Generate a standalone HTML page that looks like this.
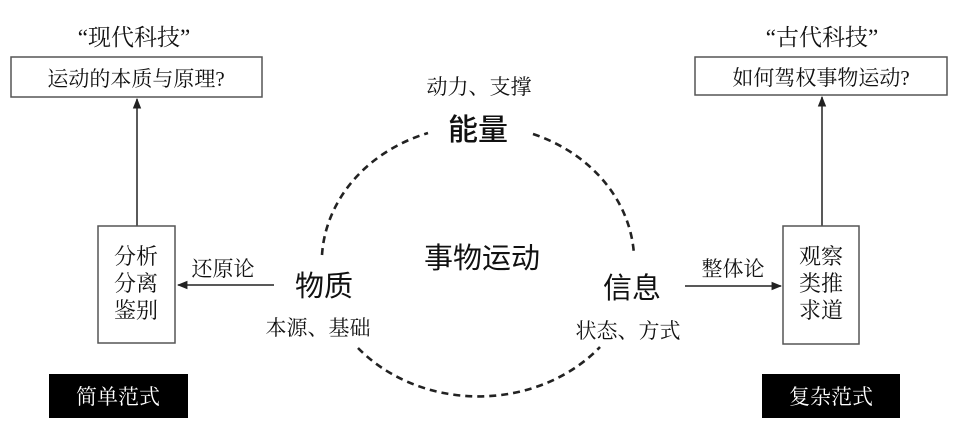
<!DOCTYPE html>
<html><head><meta charset="utf-8"><style>
body{margin:0;background:#fff;}
svg{display:block;font-family:"Liberation Serif","Noto Serif CJK SC","Noto Sans CJK SC",serif;}
</style></head><body>
<svg width="953" height="430" viewBox="0 0 953 430" xmlns="http://www.w3.org/2000/svg">
<defs><marker id="ar" viewBox="0 0 10 10" refX="9" refY="5" markerWidth="7" markerHeight="7" orient="auto"><path d="M0,1 L10,5 L0,9 z" fill="#222"/></marker></defs>
<g fill="#111" text-anchor="middle">
<text x="134" y="45" font-size="23">“现代科技”</text>
<text x="822" y="45" font-size="23">“古代科技”</text>
</g>
<rect x="11" y="57" width="251" height="40" fill="#fff" stroke="#555" stroke-width="1.5"/>
<text x="136" y="86" font-size="21" text-anchor="middle" fill="#111">运动的本质与原理?</text>
<rect x="695" y="57" width="252" height="38" fill="#fff" stroke="#555" stroke-width="1.5"/>
<text x="821" y="85" font-size="21" text-anchor="middle" fill="#111">如何驾权事物运动?</text>
<line x1="137" y1="226" x2="137" y2="99" stroke="#222" stroke-width="1.5" marker-end="url(#ar)"/>
<line x1="822" y1="226" x2="822" y2="97" stroke="#222" stroke-width="1.5" marker-end="url(#ar)"/>
<rect x="98" y="226" width="77" height="117" fill="#fff" stroke="#555" stroke-width="1.5"/>
<rect x="783" y="226" width="76" height="118" fill="#fff" stroke="#555" stroke-width="1.5"/>
<g font-size="22" text-anchor="middle" fill="#111">
<text x="136" y="264">分析</text><text x="136" y="291">分离</text><text x="136" y="318">鉴别</text>
<text x="821" y="264">观察</text><text x="821" y="291">类推</text><text x="821" y="318">求道</text>
</g>
<line x1="274" y1="285" x2="178" y2="285" stroke="#222" stroke-width="1.5" marker-end="url(#ar)"/>
<line x1="685" y1="286" x2="781" y2="286" stroke="#222" stroke-width="1.5" marker-end="url(#ar)"/>
<g font-size="21" text-anchor="middle" fill="#111">
<text x="223" y="276">还原论</text>
<text x="733" y="276">整体论</text>
<text x="318" y="335">本源、基础</text>
<text x="628" y="338">状态、方式</text>
<text x="479" y="94">动力、支撑</text>
</g>
<g font-size="29" text-anchor="middle" fill="#111" font-family="'Liberation Sans','Noto Sans CJK SC',sans-serif">
<text x="324" y="296">物质</text>
<text x="632" y="298">信息</text>
<text x="478" y="140" font-size="30" font-weight="500">能量</text>
<text x="482" y="268">事物运动</text>
</g>
<g fill="none" stroke="#222" stroke-width="2.6" stroke-dasharray="7,5">
<path d="M322,255 A158,137 0 0 1 428,133"/>
<path d="M533,134 A158,137 0 0 1 634,255"/>
<path d="M358,348 A158,137 0 0 0 600,347"/>
</g>
<rect x="49" y="374" width="139" height="44" fill="#000"/>
<text x="118" y="404" font-size="21" fill="#fff" text-anchor="middle">简单范式</text>
<rect x="762" y="374" width="138" height="44" fill="#000"/>
<text x="831" y="404" font-size="21" fill="#fff" text-anchor="middle">复杂范式</text>
</svg>
</body></html>
